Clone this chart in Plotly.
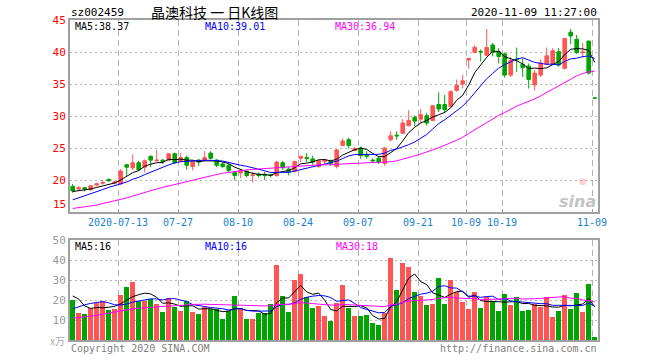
import pandas as pd
import plotly.graph_objects as go

# ---------------- data ----------------
all_days = pd.bdate_range("2020-07-01", "2020-11-09")
holidays = pd.date_range("2020-10-01", "2020-10-08")
dates = [d.strftime("%Y-%m-%d") for d in all_days if d not in holidays]

opens = [19.0, 18.6, 18.8, 18.5, 19.2, 19.5, 20.1, 19.5, 19.4, 22.4,
         21.9, 22.7, 22.0, 23.7, 23.0, 23.1, 23.1, 24.1, 22.9, 23.5,
         22.1, 23.1, 23.1, 24.2, 23.1, 22.5, 22.3, 21.2, 21.1, 21.35,
         20.7, 20.9, 20.8, 20.8, 20.7, 22.7, 21.7, 21.35, 23.4, 23.5,
         23.3, 22.1, 22.9, 22.9, 22.1, 25.4, 26.3, 24.6, 25.0, 24.0,
         23.1, 23.4, 22.6, 26.3, 27.0, 27.3, 28.5, 29.8, 29.5, 30.05,
         29.3, 31.8, 31.8, 31.5, 34.0, 35.0, 38.75, 39.95, 40.1, 39.5,
         41.1, 40.05, 39.7, 36.4, 38.9, 38.1, 37.8, 34.85, 36.4, 38.1,
         38.1, 40.05, 37.45, 43.1, 42.0, 39.9, 41.7, 32.8]
highs = [19.4, 19.0, 18.9, 19.2, 19.6, 20.0, 20.2, 19.9, 21.7, 22.5,
         24.0, 23.0, 23.2, 23.85, 24.7, 23.3, 24.2, 24.3, 24.2, 23.8,
         23.1, 23.3, 24.5, 24.5, 23.3, 22.8, 22.5, 21.4, 21.7, 21.6,
         21.3, 21.2, 21.3, 21.0, 23.0, 23.0, 22.0, 23.0, 23.8, 24.2,
         23.8, 23.2, 23.3, 23.2, 24.8, 26.5, 26.6, 25.2, 25.2, 24.5,
         23.4, 23.7, 25.1, 27.6, 27.6, 29.5, 30.9, 30.1, 31.1, 30.5,
         31.7, 33.7, 33.3, 34.0, 35.7, 36.4, 39.0, 41.1, 40.4, 43.6,
         41.4, 40.6, 39.9, 39.2, 40.7, 39.0, 38.2, 37.2, 38.85, 40.7,
         40.6, 40.6, 42.2, 43.6, 42.65, 41.4, 41.8, 32.8]
lows = [18.0, 18.3, 18.2, 18.3, 19.0, 19.3, 19.7, 19.3, 19.2, 20.6,
        21.5, 21.4, 21.2, 22.0, 22.9, 22.5, 23.0, 22.5, 22.8, 21.6,
        21.5, 22.2, 22.9, 23.2, 22.0, 21.9, 21.2, 19.95, 20.3, 20.4,
        19.6, 20.4, 20.0, 20.4, 20.5, 21.6, 20.7, 21.2, 22.8, 22.8,
        22.4, 21.9, 22.6, 22.2, 21.8, 25.3, 24.9, 24.5, 23.3, 23.3,
        22.7, 22.5, 22.2, 26.0, 26.3, 27.2, 28.4, 28.4, 28.9, 28.5,
        29.2, 30.6, 30.5, 31.3, 33.8, 34.3, 37.4, 39.8, 38.5, 39.4,
        39.3, 38.2, 36.0, 36.1, 36.9, 36.1, 34.3, 34.0, 36.1, 37.97,
        38.0, 37.7, 37.3, 41.25, 39.7, 39.1, 36.5, 32.8]
closes = [18.3, 18.8, 18.6, 19.1, 19.4, 19.6, 19.9, 19.7, 21.4, 22.0,
          22.7, 21.6, 23.0, 23.1, 23.1, 22.9, 24.1, 22.7, 23.5, 22.3,
          22.9, 22.8, 23.5, 23.4, 22.3, 22.1, 21.5, 20.7, 21.5, 20.7,
          20.8, 20.7, 20.7, 20.7, 22.8, 21.9, 21.3, 22.9, 23.7, 23.4,
          22.8, 23.0, 23.1, 22.6, 24.7, 26.1, 25.4, 24.9, 23.8, 23.7,
          23.0, 22.8, 25.0, 26.9, 26.9, 28.9, 29.3, 29.2, 30.2, 28.9,
          31.6, 31.1, 31.0, 33.8, 34.8, 35.5, 39.0, 40.7, 40.0, 40.7,
          39.95, 39.3, 36.4, 38.65, 38.8, 37.55, 35.7, 36.7, 38.3, 39.4,
          40.2, 37.97, 42.1, 42.5, 39.9, 40.0, 36.7, 32.8]

price_ma5 = [18.2, 18.3, 18.45, 18.6,
             18.84, 19.1, 19.32, 19.54, 20.0, 20.52, 21.14, 21.48, 22.14, 22.48,
             22.7, 22.74, 23.24, 23.18, 23.26, 23.1, 23.1, 22.84, 23.0, 22.98,
             22.98, 22.82, 22.56, 22.0, 21.62, 21.3, 21.04, 20.88, 20.88, 20.72,
             21.14, 21.36, 21.48, 21.92, 22.52, 22.64, 22.82, 23.16, 23.2, 22.98,
             23.24, 23.9, 24.38, 24.74, 24.98, 24.78, 24.16, 23.64, 23.66, 24.28,
             24.92, 26.1, 27.4, 28.24, 28.9, 29.3, 29.84, 30.2, 30.56, 31.28,
             32.46, 33.24, 34.82, 36.76, 38.0, 39.18, 40.07, 40.13, 39.27, 39.0,
             38.62, 38.14, 37.42, 37.48, 37.41, 37.53, 38.06, 38.51, 39.59, 40.43,
             40.53, 40.49, 40.24, 38.38]
price_ma10 = [16.9, 17.2, 17.5, 17.85, 18.2, 18.5, 18.85, 19.15, 19.45,
              19.68, 20.12, 20.4, 20.84, 21.24, 21.61, 21.94, 22.36, 22.66, 22.87,
              22.9, 22.92, 23.04, 23.09, 23.12, 23.04, 22.96, 22.7, 22.5, 22.3,
              22.14, 21.93, 21.72, 21.44, 21.17, 21.22, 21.2, 21.18, 21.4, 21.62,
              21.89, 22.09, 22.32, 22.56, 22.75, 22.94, 23.36, 23.77, 23.97, 23.98,
              24.01, 24.03, 24.01, 24.2, 24.63, 24.85, 25.13, 25.52, 25.95, 26.59,
              27.11, 27.97, 28.8, 29.4, 30.09, 30.88, 31.54, 32.51, 33.66, 34.64,
              35.82, 36.66, 37.48, 38.02, 38.5, 38.9, 39.11, 38.78, 38.38, 38.21,
              38.08, 38.1, 37.97, 38.54, 38.92, 39.03, 39.28, 39.38, 38.99]
price_ma30 = [15.55, 15.65, 15.8, 15.95, 16.1, 16.3, 16.5, 16.7, 16.95, 17.2,
              17.5, 17.8, 18.1, 18.35, 18.6, 18.85, 19.05, 19.3, 19.5, 19.75,
              19.95, 20.2, 20.45, 20.65, 20.85, 21.05, 21.2, 21.3, 21.4,
              21.57, 21.66, 21.72, 21.79, 21.84, 21.96, 22.03, 22.08, 22.19, 22.26,
              22.31, 22.31, 22.36, 22.36, 22.35, 22.4, 22.51, 22.55, 22.62, 22.63,
              22.68, 22.68, 22.68, 22.73, 22.85, 23.0, 23.23, 23.49, 23.77, 24.06,
              24.34, 24.7, 25.04, 25.39, 25.82, 26.22, 26.68, 27.27, 27.86, 28.4,
              28.98, 29.55, 30.1, 30.54, 31.07, 31.54, 31.93, 32.27, 32.66, 33.15,
              33.67, 34.24, 34.75, 35.32, 35.84, 36.27, 36.64, 36.89, 37.01]

volumes = [20.0, 13.7, 13.0, 16.2, 18.3, 19.3, 15.0, 15.5, 22.5, 26.5,
           29.0, 19.7, 19.5, 20.5, 18.0, 14.0, 21.0, 16.3, 14.7, 19.5,
           14.0, 13.0, 16.3, 15.7, 15.3, 10.5, 14.7, 22.0, 16.0, 10.5,
           10.5, 13.7, 13.7, 18.0, 37.5, 22.0, 14.0, 30.0, 33.0, 21.3,
           16.0, 17.0, 12.0, 9.7, 18.3, 27.5, 16.0, 12.0, 12.0, 12.5,
           8.5, 7.5, 13.7, 41.0, 25.0, 38.5, 36.5, 24.0, 22.0, 17.5,
           18.0, 31.0, 18.0, 30.0, 24.0, 19.2, 15.5, 24.0, 16.0, 21.7,
           19.5, 14.5, 23.0, 17.5, 21.5, 14.5, 15.0, 18.0, 16.5, 21.5,
           11.5, 14.5, 22.5, 15.5, 23.5, 14.0, 28.0, 1.5]
vol_ma5 = [22.0, 20.5, 17.0, 15.8,
           16.24, 16.1, 16.36, 16.86, 18.12, 19.76, 21.7, 22.64, 23.44, 23.04,
           21.34, 18.34, 18.6, 17.96, 16.8, 17.1, 17.1, 15.5, 15.5, 15.7,
           14.86, 14.16, 14.5, 15.64, 15.7, 14.74, 14.74, 14.54, 12.88, 13.28,
           18.68, 20.98, 21.04, 24.3, 27.3, 24.06, 22.86, 23.46, 19.86, 15.2,
           14.6, 16.9, 16.7, 16.7, 17.16, 16.0, 12.2, 10.5, 10.84, 16.64,
           19.14, 25.14, 30.94, 33.0, 29.2, 27.7, 23.6, 22.5, 21.3, 22.9,
           24.2, 24.44, 21.34, 22.54, 19.74, 19.28, 19.34, 19.14, 18.94, 19.24,
           19.2, 18.2, 18.3, 17.3, 17.1, 17.1, 16.5, 16.4, 17.3, 17.1,
           17.5, 18.0, 20.7, 16.5]
vol_ma10 = [15.6, 16.8, 17.6, 18.3, 18.8, 19.2, 18.6, 17.6, 17.5,
            18.0, 18.9, 19.5, 20.15, 20.58, 20.55, 20.02, 20.62, 20.7, 19.92,
            19.22, 17.72, 17.05, 16.73, 16.25, 15.98, 15.63, 15.0, 15.57, 15.7,
            14.8, 14.45, 14.52, 14.26, 14.49, 16.71, 17.86, 17.79, 18.59, 20.29,
            21.37, 21.92, 22.25, 22.08, 21.25, 19.33, 19.88, 20.08, 18.28, 16.18,
            15.3, 14.55, 13.6, 13.77, 16.9, 17.57, 18.67, 20.72, 21.92, 22.92,
            23.42, 24.37, 26.72, 27.15, 26.05, 25.95, 24.02, 21.92, 21.92, 21.32,
            21.74, 21.89, 20.24, 20.74, 19.49, 19.24, 18.77, 18.72, 18.12, 18.17,
            18.15, 17.35, 17.35, 17.3, 17.1, 17.3, 17.25, 18.55, 16.9]
vol_ma30 = [10.9, 11.2, 11.5, 11.9, 12.3, 12.9, 13.5, 14.0, 14.6, 15.1,
            15.6, 15.9, 16.2, 16.5, 16.7, 16.8, 16.9, 17.0, 17.2, 17.5,
            17.8, 18.0, 17.9, 17.8, 17.7, 17.5, 17.4, 17.3, 17.3,
            17.34, 17.02, 17.02, 17.05, 17.11, 17.75, 17.84, 17.8, 18.29, 18.64,
            18.46, 18.03, 17.94, 17.69, 17.33, 17.34, 17.79, 17.62, 17.48, 17.39,
            17.16, 16.97, 16.79, 16.7, 17.55, 17.87, 18.8, 19.53, 19.6, 19.8,
            20.03, 20.28, 20.86, 21.0, 21.4, 20.95, 20.86, 20.91, 20.71, 20.14,
            20.15, 20.27, 20.19, 20.55, 20.81, 20.92, 20.49, 20.45, 20.65, 20.8,
            21.1, 21.2, 21.44, 21.73, 20.88, 20.83, 20.01, 19.73, 18.98]

tick_dates = ["2020-07-13", "2020-07-27", "2020-08-10", "2020-08-24", "2020-09-07",
              "2020-09-21", "2020-10-09", "2020-10-19", "2020-11-09"]
tick_labels = ["2020-07-13", "07-27", "08-10", "08-24", "09-07",
               "09-21", "10-09", "10-19", "11-09"]
price_ticks = [15, 20, 25, 30, 35, 40, 45]
vol_ticks = [10, 20, 30, 40, 50]

# ---------------- styling ----------------
RED = "#ff5555"
GREEN = "#00a400"
GRID = "#b4b4b4"
FRAME = "#a0a0a0"
MONO = "DejaVu Sans Mono"
W, H = 660, 360
L, R, T, B = 70, 62, 20, 20

n = len(closes)
xs = [i + 0.45 for i in range(n)]
tickvals = [dates.index(d) for d in tick_dates]
bar_colors = [RED if c > o else GREEN for o, c in zip(opens, closes)]

fig = go.Figure()
fig.add_trace(go.Candlestick(
    x=xs, open=opens, high=highs, low=lows, close=closes,
    increasing=dict(line=dict(color=RED, width=1), fillcolor=RED),
    decreasing=dict(line=dict(color=GREEN, width=1), fillcolor=GREEN),
    xaxis="x", yaxis="y", hoverinfo="skip", showlegend=False))
for ys, col in [(price_ma5, "#000000"), (price_ma10, "#0000ff"), (price_ma30, "#ff00ff")]:
    fig.add_trace(go.Scatter(x=xs, y=ys, mode="lines", line=dict(color=col, width=1),
                             xaxis="x", yaxis="y", hoverinfo="skip", showlegend=False))
fig.add_trace(go.Bar(x=xs, y=volumes, marker=dict(color=bar_colors, line=dict(width=0)),
                     width=0.82, xaxis="x2", yaxis="y2", hoverinfo="skip", showlegend=False))
for ys, col in [(vol_ma5, "#000000"), (vol_ma10, "#0000ff"), (vol_ma30, "#ff00ff")]:
    fig.add_trace(go.Scatter(x=xs, y=ys, mode="lines", line=dict(color=col, width=1),
                             xaxis="x2", yaxis="y2", hoverinfo="skip", showlegend=False))

plot_h = H - T - B
price_dom = [(H - B - 212) / plot_h, 1]
vol_dom = [0, (H - B - 240) / plot_h]

xcommon = dict(range=[0, n], tickvals=tickvals, showgrid=True, gridcolor=GRID,
               griddash="6px,4px", gridwidth=1, showline=True, mirror=True,
               linecolor=FRAME, linewidth=2, zeroline=False, fixedrange=True,
               automargin=False)
fig.update_layout(
    width=W, height=H, margin=dict(l=L, r=R, t=T, b=B, autoexpand=False),
    paper_bgcolor="white", plot_bgcolor="white", boxgap=0.15, bargap=0,
    showlegend=False,
    xaxis=dict(domain=[0, 1], anchor="y", ticktext=tick_labels, ticks="inside",
               ticklen=3, tickcolor=FRAME,
               tickfont=dict(family=MONO, size=10, color="#1a7fd4"),
               rangeslider=dict(visible=False), **xcommon),
    xaxis2=dict(domain=[0, 1], anchor="y2", matches="x", showticklabels=False,
                ticks="", **xcommon),
    yaxis=dict(domain=price_dom, range=[15, 45], tickvals=price_ticks,
               ticktext=["" if v == 15 else str(v) for v in price_ticks],
               tickfont=dict(family=MONO, size=11, color="#ff0000"),
               showgrid=True, gridcolor=GRID, griddash="2px,3px", showline=True,
               mirror=True, linecolor=FRAME, linewidth=2, zeroline=False, ticks="",
               automargin=False, fixedrange=True),
    yaxis2=dict(domain=vol_dom, range=[0, 50], tickvals=vol_ticks,
                tickfont=dict(family=MONO, size=11, color="#999999"),
                showgrid=True, gridcolor=GRID, griddash="2px,3px", showline=True,
                mirror=True, linecolor=FRAME, linewidth=2, zeroline=False, ticks="",
                automargin=False, fixedrange=True),
)


def P(px, py):
    return (px - L) / (W - L - R), (H - B - py) / plot_h


def note(px, py, text, color="#000000", size=10, xanchor="left", family=MONO, yanchor="middle"):
    x, y = P(px, py)
    fig.add_annotation(x=x, y=y, xref="paper", yref="paper", text=text, showarrow=False,
                       xanchor=xanchor, yanchor=yanchor, borderpad=0,
                       font=dict(family=family, size=size, color=color))


note(70, 12, "sz002459", size=11)
note(150, 12, "晶澳科技 一 日K线图", size=14, family="Noto Sans CJK SC")
note(598, 12, "2020-11-09 11:27:00", size=11, xanchor="right")
note(74, 26, "MA5:38.37")
note(204, 26, "MA10:39.01", color="#0000ff")
note(334, 26, "MA30:36.94", color="#ff00ff")
note(74, 246, "MA5:16")
note(204, 246, "MA10:16", color="#0000ff")
note(335, 246, "MA30:18", color="#ff00ff")
note(67, 212, "15", color="#ff0000", size=11, xanchor="right", yanchor="bottom")
note(66, 340, "x万", color="#aaaaaa", size=10, xanchor="right", family="Noto Sans CJK SC")
note(70, 348, "Copyright 2020 SINA.COM", color="#808080")
note(598, 348, "http://finance.sina.com.cn", color="#808080", xanchor="right")
note(597, 201, "<b><i>sina</i></b>", color="#c4c4c4", size=16, xanchor="right",
     family="DejaVu Sans")
note(583, 181, "●", color="rgba(255,120,120,0.35)", size=9, xanchor="center",
     family="DejaVu Sans")

fig.write_html("out.html", config={"displayModeBar": False, "staticPlot": True},
               post_script="document.body.style.margin='0px';document.body.style.padding='0px';")
